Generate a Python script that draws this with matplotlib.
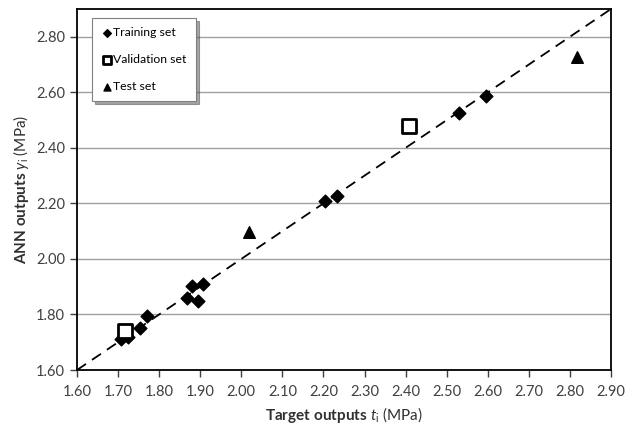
import matplotlib
matplotlib.use('Agg')
import matplotlib.pyplot as plt
from matplotlib import rcParams

rcParams['font.family'] = ['Lato', 'DejaVu Sans']
rcParams['mathtext.fontset'] = 'custom'
rcParams['mathtext.rm'] = 'Lato'
rcParams['mathtext.it'] = 'Lato:italic'
rcParams['mathtext.bf'] = 'Lato:bold'

train_t = [1.706, 1.723, 1.753, 1.770, 1.868, 1.881, 1.907, 1.895, 2.203, 2.232, 2.529, 2.595]
train_y = [1.711, 1.718, 1.751, 1.795, 1.859, 1.903, 1.909, 1.849, 2.207, 2.228, 2.527, 2.587]
val_t = [1.717, 2.408]
val_y = [1.740, 2.477]
test_t = [2.019, 2.816]
test_y = [2.098, 2.727]

x_ticks = [1.6 + 0.1 * i for i in range(14)]
y_ticks = [1.6 + 0.2 * i for i in range(7)]

fig = plt.figure(figsize=(6.27, 4.28), dpi=100)
ax = fig.add_axes([0.1228, 0.1355, 0.8517, 0.8435])

# Gitter
for yv in y_ticks[1:]:
    ax.axhline(yv, color='#a0a0a0', linewidth=1.0, zorder=0)

# Ideallinie
ax.plot([1.6, 2.9], [1.6, 2.9], color='black', linestyle=(0, (6, 4)), linewidth=1.3, zorder=1)

ax.scatter(train_t, train_y, marker='D', s=42, color='black', zorder=3, label='Training set')
ax.scatter(val_t, val_y, marker='s', s=90, facecolor='white', edgecolor='black',
           linewidths=2, zorder=3, label='Validation set')
ax.scatter(test_t, test_y, marker='^', s=70, color='black', zorder=3, label='Test set')

ax.set_xlim(1.6, 2.9)
ax.set_ylim(1.6, 2.9)
ax.set_xticks(x_ticks)
ax.set_yticks(y_ticks)
ax.set_xticklabels([f'{v:.2f}' for v in x_ticks])
ax.set_yticklabels([f'{v:.2f}' for v in y_ticks])
ax.tick_params(direction='out', length=5, width=1, labelsize=10.5, colors='#404040')
ax.tick_params(axis='x', pad=6)
for sp in ax.spines.values():
    sp.set_linewidth(1.3)

ax.set_xlabel(r'$\bf{Target\ outputs}$ $\it{t}_{\rm i}$ (MPa)', fontsize=11, color='#303030')
ax.set_ylabel(r'$\bf{ANN\ outputs}$ $\it{y}_{\rm i}$ (MPa)', fontsize=11, color='#303030')

leg = ax.legend(loc='upper left', bbox_to_anchor=(0.028, 0.975), fontsize=8.8,
                frameon=True, fancybox=False, shadow=True, handletextpad=0.1,
                handlelength=0.9, borderpad=0.75, labelspacing=1.3, markerscale=0.6,
                borderaxespad=0.0)
leg.get_frame().set_edgecolor('#808080')
leg.get_frame().set_linewidth(0.8)

fig.savefig('out.png', dpi=100)
